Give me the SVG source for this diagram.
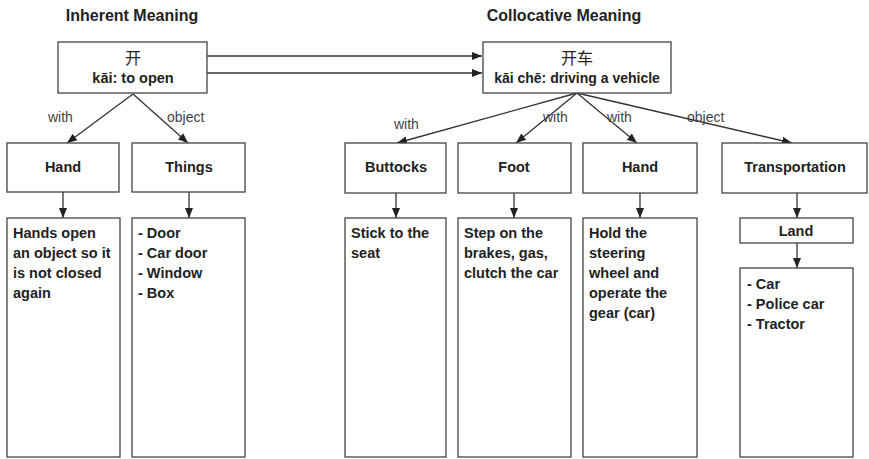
<svg xmlns="http://www.w3.org/2000/svg" width="869" height="459" viewBox="0 0 869 459">
<style>
.box{fill:#fff;stroke:#444;stroke-width:1.3}
.t{font-family:"Liberation Sans","Noto Sans CJK SC",sans-serif;font-weight:bold;font-size:14.5px;fill:#222}
.c{text-anchor:middle}
.title{font-family:"Liberation Sans",sans-serif;font-weight:bold;font-size:16px;fill:#222;text-anchor:middle}
.lbl{font-family:"Liberation Sans",sans-serif;font-size:14px;fill:#444}
.cn{font-family:"Noto Sans CJK SC",sans-serif;font-size:16px;fill:#222;text-anchor:middle}
.ln{stroke:#333;stroke-width:1.3;fill:none;marker-end:url(#ah)}
</style>
<defs>
<marker id="ah" markerUnits="userSpaceOnUse" markerWidth="10" markerHeight="10" viewBox="0 0 10 10" refX="10" refY="5" orient="auto">
<path d="M0,1 L10,5 L0,9 z" fill="#222"/>
</marker>
</defs>
<rect width="869" height="459" fill="#fff"/>
<text class="title" x="132" y="21">Inherent Meaning</text>
<text class="title" x="564" y="21">Collocative Meaning</text>

<g id="connectors">
<line class="ln" x1="207" y1="56" x2="482" y2="56"/>
<line class="ln" x1="207" y1="73" x2="482" y2="73"/>
<line class="ln" x1="133" y1="94" x2="67" y2="143"/>
<line class="ln" x1="133" y1="94" x2="188" y2="143"/>
<line class="ln" x1="63" y1="192" x2="63" y2="218"/>
<line class="ln" x1="189" y1="192" x2="189" y2="218"/>
<line class="ln" x1="577" y1="93" x2="397" y2="143"/>
<line class="ln" x1="577" y1="93" x2="516" y2="143"/>
<line class="ln" x1="577" y1="93" x2="637" y2="143"/>
<line class="ln" x1="577" y1="93" x2="792" y2="143"/>
<line class="ln" x1="396" y1="193" x2="396" y2="218"/>
<line class="ln" x1="514" y1="193" x2="514" y2="218"/>
<line class="ln" x1="640" y1="193" x2="640" y2="218"/>
<line class="ln" x1="797" y1="193" x2="797" y2="218"/>
<line class="ln" x1="797" y1="243" x2="797" y2="268"/>
<text class="lbl" x="48" y="122">with</text>
<text class="lbl" x="167" y="122">object</text>
<text class="lbl" x="394" y="129">with</text>
<text class="lbl" x="543" y="122">with</text>
<text class="lbl" x="607" y="122">with</text>
<text class="lbl" x="687" y="122">object</text>
</g>

<g id="kai">
<rect class="box" x="58" y="42" width="149" height="51"/>
<text class="cn" x="133" y="64">开</text>
<text class="t c" x="133" y="83">kāi: to open</text>
</g>
<g id="kaiche">
<rect class="box" x="483" y="42" width="188" height="51"/>
<text class="cn" x="577" y="64">开车</text>
<text class="t c" x="577" y="83" style="font-size:14px">kāi chē: driving a vehicle</text>
</g>

<g id="hand1">
<rect class="box" x="7" y="143" width="112" height="49"/>
<text class="t c" x="63" y="172">Hand</text>
</g>
<g id="things">
<rect class="box" x="132" y="143" width="113" height="49"/>
<text class="t c" x="189" y="172">Things</text>
</g>
<g id="hand1-detail">
<rect class="box" x="7" y="218" width="113" height="239"/>
<text class="t" x="13" y="238">Hands open</text>
<text class="t" x="13" y="258">an object so it</text>
<text class="t" x="13" y="278">is not closed</text>
<text class="t" x="13" y="298">again</text>
</g>
<g id="things-detail">
<rect class="box" x="132" y="218" width="113" height="239"/>
<text class="t" x="138" y="238">- Door</text>
<text class="t" x="138" y="258">- Car door</text>
<text class="t" x="138" y="278">- Window</text>
<text class="t" x="138" y="298">- Box</text>
</g>

<g id="buttocks">
<rect class="box" x="345" y="143" width="101" height="50"/>
<text class="t c" x="396" y="172">Buttocks</text>
</g>
<g id="foot">
<rect class="box" x="458" y="143" width="113" height="50"/>
<text class="t c" x="514" y="172">Foot</text>
</g>
<g id="hand2">
<rect class="box" x="583" y="143" width="114" height="50"/>
<text class="t c" x="640" y="172">Hand</text>
</g>
<g id="transportation">
<rect class="box" x="722" y="143" width="145" height="50"/>
<text class="t c" x="795" y="172">Transportation</text>
</g>

<g id="buttocks-detail">
<rect class="box" x="345" y="218" width="101" height="239"/>
<text class="t" x="351" y="238">Stick to the</text>
<text class="t" x="351" y="258">seat</text>
</g>
<g id="foot-detail">
<rect class="box" x="458" y="218" width="113" height="239"/>
<text class="t" x="464" y="238">Step on the</text>
<text class="t" x="464" y="258">brakes, gas,</text>
<text class="t" x="464" y="278">clutch the car</text>
</g>
<g id="hand2-detail">
<rect class="box" x="583" y="218" width="114" height="239"/>
<text class="t" x="589" y="238">Hold the</text>
<text class="t" x="589" y="258">steering</text>
<text class="t" x="589" y="278">wheel and</text>
<text class="t" x="589" y="298">operate the</text>
<text class="t" x="589" y="318">gear (car)</text>
</g>
<g id="land">
<rect class="box" x="740" y="218" width="113" height="25"/>
<text class="t c" x="796" y="236">Land</text>
</g>
<g id="land-detail">
<rect class="box" x="740" y="268" width="113" height="189"/>
<text class="t" x="747" y="289">- Car</text>
<text class="t" x="747" y="309">- Police car</text>
<text class="t" x="747" y="329">- Tractor</text>
</g>
</svg>
